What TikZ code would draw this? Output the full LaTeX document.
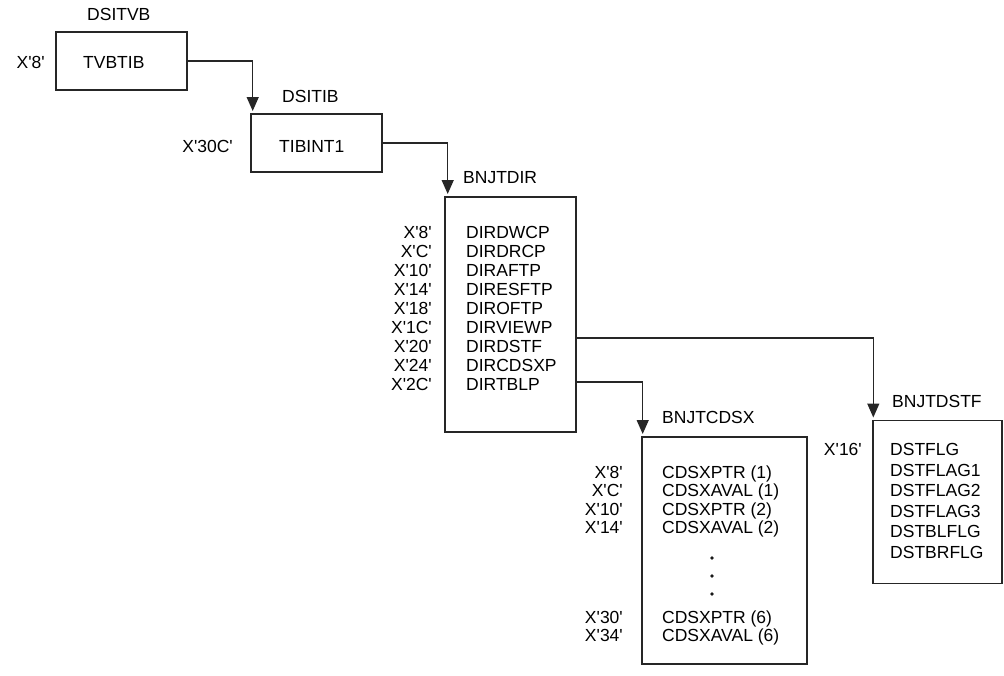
\documentclass[tikz,border=0pt]{standalone}
\usepackage{fontspec}
\setmainfont{Liberation Sans}[Ligatures=TeXOff]
\usetikzlibrary{arrows.meta}
\begin{document}
\begin{tikzpicture}[x=1pt,y=-1pt,
  box/.style={draw=black!85, line width=1.3pt, inner sep=0pt, outer sep=0pt, anchor=north west, rectangle},
  lbl/.style={inner sep=0pt, font=\fontsize{17.5}{21}\selectfont, text=black},
  conn/.style={draw=black!85, line width=1.3pt, -{Triangle[length=14pt,width=12pt]}, shorten >=3pt}]
\useasboundingbox (0,0) rectangle (1004,675);

% DSITVB
\node[box, minimum width=131pt, minimum height=58pt] (tvb) at (56,32) {};
\node[lbl, anchor=base west] (tvbtitle) at (87,20) {DSITVB};
\node[lbl, anchor=base east] (tvbofs) at (45,68.5) {X'8'};
\node[lbl, anchor=base west] (tvbtib) at (83,68.5) {TVBTIB};

% DSITIB
\node[box, minimum width=131pt, minimum height=58pt] (tib) at (251,114) {};
\node[lbl, anchor=base west] (tibtitle) at (282,102.5) {DSITIB};
\node[lbl, anchor=base east] (tibofs) at (233,152.5) {X'30C'};
\node[lbl, anchor=base west] (tibint) at (279,152.5) {TIBINT1};

% BNJTDIR
\node[box, minimum width=131pt, minimum height=235pt] (dir) at (445,197) {};
\node[lbl, anchor=base west] (dirtitle) at (463,183.5) {BNJTDIR};
\foreach \o/\n [count=\i from 0] in {X'8'/DIRDWCP, X'C'/DIRDRCP, X'10'/DIRAFTP, X'14'/DIRESFTP, X'18'/DIROFTP, X'1C'/DIRVIEWP, X'20'/DIRDSTF, X'24'/DIRCDSXP, X'2C'/DIRTBLP}{
  \node[lbl, anchor=base east] (dirofs\i) at (432,{238+19.1*\i}) {\o};
  \node[lbl, anchor=base west] (dirfld\i) at (466,{238+19.1*\i}) {\n};
}

% BNJTCDSX
\node[box, minimum width=165pt, minimum height=227pt] (cdsx) at (642,437) {};
\node[lbl, anchor=base west] (cdsxtitle) at (662,423) {BNJTCDSX};
\foreach \o/\n/\y [count=\i] in {X'8'/CDSXPTR (1)/472, X'C'/CDSXAVAL (1)/490.5, X'10'/CDSXPTR (2)/509, X'14'/CDSXAVAL (2)/527.5, X'30'/CDSXPTR (6)/617, X'34'/CDSXAVAL (6)/635.5}{
  \node[lbl, anchor=base east] (cdsxofs\i) at (623,\y+6.2) {\o};
  \node[lbl, anchor=base west] (cdsxfld\i) at (662,\y+6.2) {\n};
}
\fill[black!90] (712,558) circle (1.8);
\fill[black!90] (712,576) circle (1.8);
\fill[black!90] (712,594) circle (1.8);

% BNJTDSTF
\node[box, minimum width=129pt, minimum height=163pt] (dstf) at (873,420.5) {};
\node[lbl, anchor=base west] (dstftitle) at (892,407.5) {BNJTDSTF};
\node[lbl, anchor=base east] (dstfofs) at (862,455.5) {X'16'};
\foreach \n [count=\i from 0] in {DSTFLG, DSTFLAG1, DSTFLAG2, DSTFLAG3, DSTBLFLG, DSTBRFLG}{
  \node[lbl, anchor=base west] (dstffld\i) at (890,{455.5+20.5*\i}) {\n};
}

% connector end points
\coordinate (tibin) at (252.7,114);
\coordinate (dirin) at (447.7,197);
\coordinate (dstfin) at (873.3,420.5);
\coordinate (cdsxin) at (642.7,437);
\coordinate (dirview) at (576,338);
\coordinate (dircdsx) at (576,382);

\draw[conn] (tvb.east) -| (tibin);
\draw[conn] (tib.east) -| (dirin);
\draw[conn] (dirview) -| (dstfin);
\draw[conn] (dircdsx) -| (cdsxin);
\end{tikzpicture}
\end{document}
